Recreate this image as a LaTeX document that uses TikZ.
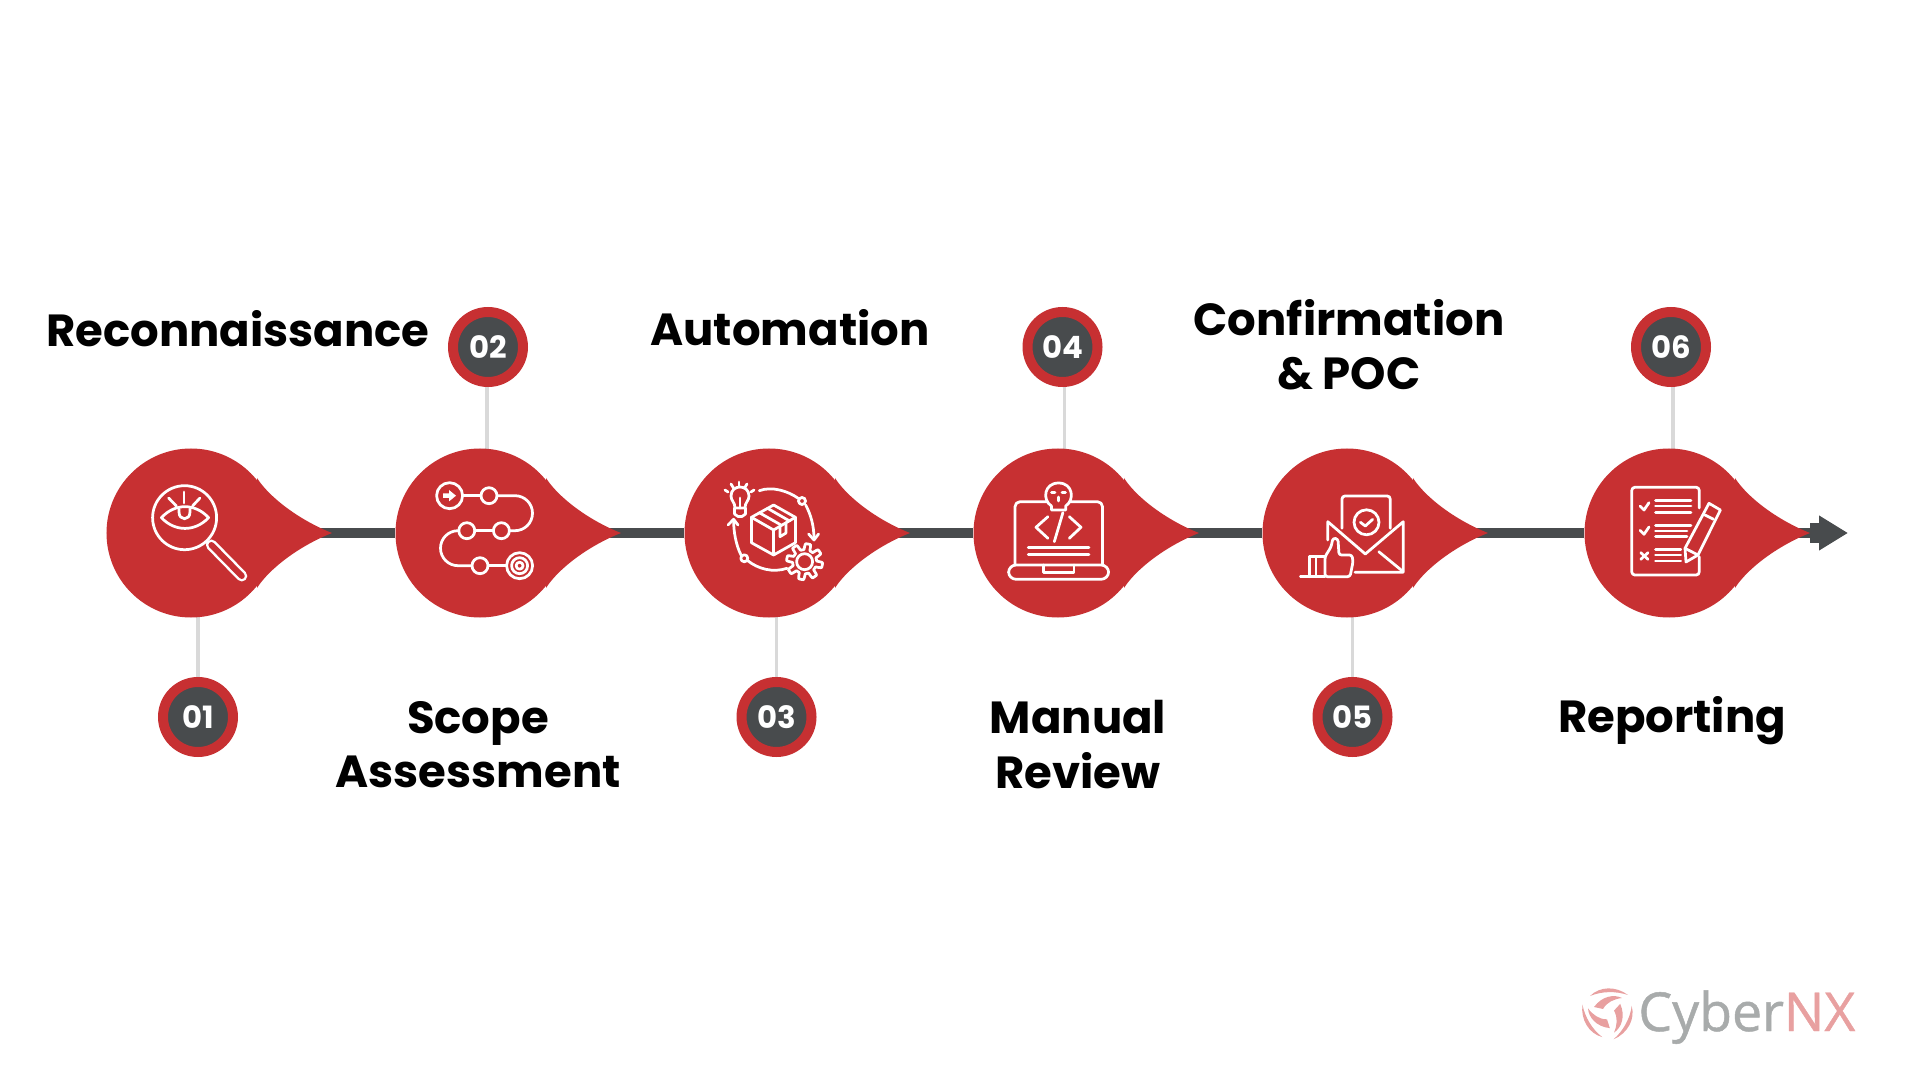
\documentclass[tikz,border=0pt]{standalone}
\usepackage{fontspec}
\setmainfont{Poppins}
\newfontfamily\logofont[FakeBold=0.9]{Open Sans}
\usepackage{xcolor}
\usetikzlibrary{arrows.meta,backgrounds}
\definecolor{dropred}{HTML}{C73032}
\definecolor{darkline}{HTML}{484B4D}
\definecolor{stemgrey}{HTML}{D9D9D9}
\definecolor{logogrey}{HTML}{A8ABAB}
\definecolor{logopink}{HTML}{E8A0A0}
\tikzset{dropnode/.style={circle,fill=dropred,minimum size=3.38cm,inner sep=0pt}}
\tikzset{ringnode/.style={circle,fill=darkline,draw=dropred,line width=2mm,minimum size=1.4cm,inner sep=0pt,text=white,font=\fontsize{17.5}{17.5}\selectfont\bfseries}}
\tikzset{titlenode/.style={align=center,text=black,font=\fontsize{25.6}{31}\selectfont\bfseries}}
\tikzset{mainline/.style={draw=darkline,line width=2mm}}
\tikzset{stemline/.style={draw=stemgrey,line width=0.7mm}}
\tikzset{iconline/.style={draw=white,line width=0.55mm,line cap=round,line join=round}}
\newcommand{\droptail}[1]{\fill[dropred,shift={(#1)}] (66,-55) .. controls (78,-36) and (108,-13) .. (141,0) .. controls (108,13) and (78,36) .. (66,55) -- cycle;}
\begin{document}
\begin{tikzpicture}[x=0.2mm,y=-0.2mm]
\useasboundingbox (0,0) rectangle (1920,1080);
    % drops
    \node[dropnode] (c1) at (191,533) {};
    \node[dropnode] (c2) at (480,533) {};
    \node[dropnode] (c3) at (769,533) {};
    \node[dropnode] (c4) at (1058,533) {};
    \node[dropnode] (c5) at (1347,533) {};
    \node[dropnode] (c6) at (1669,533) {};
    \droptail{c1}
    \droptail{c2}
    \droptail{c3}
    \droptail{c4}
    \droptail{c5}
    \droptail{c6}
    % numbers
    \node[ringnode] (n1) at (198,717) {01};
    \node[ringnode] (n2) at (488,347) {02};
    \node[ringnode] (n3) at (776.5,717) {03};
    \node[ringnode] (n4) at (1062.5,347) {04};
    \node[ringnode] (n5) at (1352.5,717) {05};
    \node[ringnode] (n6) at (1671,347) {06};
    % titles
    \node[titlenode] (t1) at (238,328.5) {Reconnaissance};
    \node[titlenode] (t2) at (478,744.5) {Scope\\Assessment};
    \node[titlenode] (t3) at (790,327.5) {Automation};
    \node[titlenode] (t4) at (1078,744.5) {Manual\\Review};
    \node[titlenode] (t5) at (1349,344.5) {Confirmation\\\& POC};
    \node[titlenode] (t6) at (1672,721) {Reporting};
    % line and stems go behind
    \coordinate (e1) at (1848,533);
    \begin{scope}[on background layer]
        \path[mainline] (c1) -- (c2) -- (c3) -- (c4) -- (c5) -- (c6);
        \path[mainline,line width=4mm] (1810,533) -- (1824,533);
        \path[mainline,-{Triangle[length=5.8mm,width=6.6mm]}] (c6) -- (e1);
        \path[stemline] (n1) -- (n1 |- c1);
        \path[stemline] ([xshift=-0.2mm]n2.center) -- ([xshift=-0.2mm]n2 |- c2);
        \path[stemline] (n3) -- (n3 |- c3);
        \path[stemline] ([xshift=0.4mm]n4.center) -- ([xshift=0.4mm]n4 |- c4);
        \path[stemline] (n5) -- (n5 |- c5);
        \path[stemline] ([xshift=0.4mm]n6.center) -- ([xshift=0.4mm]n6 |- c6);
    \end{scope}
    % icon 1, eye and lens
    \begin{scope}[iconline]
        \draw (184.6,517.7) circle (32);
        \draw (161.4,517.7) .. controls (175,503) and (195,503) .. (208.6,517.7) .. controls (195,532) and (175,532) .. cycle;
        \draw (179,509) -- (179,512) .. controls (179,521) and (190,521) .. (190,512) -- (190,509);
        \draw (184,492) -- (184,503);
        \draw (168.6,498) -- (176.4,506);
        \draw (200,498) -- (192.5,506);
        \draw (206.8,542.3) -- (211.4,545);
        \draw[line width=2.2mm] (211.4,545) -- (241.8,576);
        \draw[dropred,line width=1.2mm] (211.4,545) -- (241.8,576);
    \end{scope}
    % icon 2, route
    \begin{scope}[iconline]
        \draw (449.6,495.7) circle (13);
        \fill[white] (443,493.5) -- (449,493.5) -- (449,490) -- (456,495.7) -- (449,501.4) -- (449,498) -- (443,498) -- cycle;
        \draw (462.6,495.7) -- (481,495.7);
        \draw (489,495.7) circle (8);
        \draw (497,495.7) -- (515,495.7) arc (-90:90:17.5) -- (509.4,530.7);
        \draw (501.4,530.7) circle (8);
        \draw (493.4,530.7) -- (474.8,530.7);
        \draw (466.8,530.7) circle (8);
        \draw (458.8,530.7) -- (458,530.7) arc (270:90:17.5) -- (472,565.7);
        \draw (480,565.7) circle (8);
        \draw (488,565.7) -- (506.6,565.7);
        \draw (519.6,565.7) circle (13);
        \draw (519.6,565.7) circle (8);
        \draw (519.6,565.7) circle (3.5);
    \end{scope}
    % icon 3, box in a cycle
    \begin{scope}[iconline]
        \draw (773.6,505) -- (795.4,517.3) -- (795.4,542.7) -- (773.6,555) -- (751.4,542.7) -- (751.4,517.3) -- cycle;
        \draw (751.4,517.3) -- (773.6,530) -- (795.4,517.3);
        \draw (773.6,530) -- (773.6,555);
        \draw (759.3,512.7) -- (781,525);
        \draw (767.5,508.3) -- (789.6,521);
        \draw (780,526.7) -- (780,536.7) -- (786,533) -- (786,522.7);
        \draw (735,508) .. controls (735,502) and (731,501) .. (731,496) .. controls (731,484) and (749,484) .. (749,496) .. controls (749,501) and (745,502) .. (745,508) -- cycle;
        \draw (734.5,508) -- (734.5,514) -- (738,516.5) -- (742,516.5) -- (745.5,514) -- (745.5,508);
        \draw (740,508) -- (740,498);
        \draw (739,482) -- (739,486);
        \draw (731,484) -- (733.5,488);
        \draw (747,484) -- (744.5,488);
        \draw (725,490) -- (728,492);
        \draw (754,490) -- (751,492);
        \draw (759.3,490.7) .. controls (772,486) and (788,491) .. (798.5,498.5);
        \draw (802,501) circle (3.5);
        \draw (805.7,505) .. controls (811,515) and (814,526) .. (814,539);
        \draw (808.6,534) -- (814,540) -- (818.6,534);
        \draw (787,568.3) .. controls (773,573) and (758,569) .. (747.5,560.5);
        \draw (744.3,558.3) circle (3.5);
        \draw (741,555) .. controls (736,545) and (733.6,532) .. (733.6,520);
        \draw (728,525) -- (733.6,519.3) -- (738,525);
        \draw[fill=dropred] plot[samples=193,domain=0:360] ({804.6+(15+3*max(min(2.5*sin(8*\x),1),-1))*cos(\x)},{561.7+(15+3*max(min(2.5*sin(8*\x),1),-1))*sin(\x)}) -- cycle;
        \draw (804.6,561.7) circle (8);
    \end{scope}
    % icon 4, laptop
    \begin{scope}[iconline]
        \draw[rounded corners=1mm] (1015,565) -- (1015,501.7) -- (1102.5,501.7) -- (1102.5,565);
        \fill[dropred] (1058.6,495) circle (12.5);
        \draw (1051.4,506) .. controls (1042,500) and (1044,483) .. (1058.6,483) .. controls (1073,483) and (1075,500) .. (1065.7,506) -- (1065.7,510) -- (1051.4,510) -- cycle;
        \draw (1051.5,492.5) -- (1055,492.5);
        \draw (1062,492.5) -- (1065.5,492.5);
        \draw (1058.6,497) -- (1058.6,501);
        \draw (1047.9,516.7) -- (1036,527.3) -- (1047.9,538.3);
        \draw (1069.3,516.7) -- (1081,527.3) -- (1069.3,538.3);
        \draw (1062.9,512.7) -- (1054.3,541.7);
        \draw (1028.2,547.3) -- (1089,547.3);
        \draw (1028.2,554.3) -- (1089,554.3);
        \draw[rounded corners=1.5mm] (1008.6,565) -- (1008.6,579.3) -- (1108.6,579.3) -- (1108.6,565) -- cycle;
        \draw (1043.6,565) -- (1043.6,572.7) -- (1074,572.7) -- (1074,565);
    \end{scope}
    % icon 5, mail and thumb
    \begin{scope}[iconline]
        \draw[rounded corners=0.6mm] (1342,528.3) -- (1342,496) -- (1390.2,496) -- (1390.2,528.3);
        \draw (1366.5,522.3) circle (12.5);
        \draw (1360.4,522.3) -- (1365.3,526) -- (1372.7,519.3);
        \draw (1327.8,540) -- (1327.8,521.7) -- (1365.3,554) -- (1403.3,521.7) -- (1403.3,572.3) -- (1355,572.3);
        \draw (1378.8,551.7) -- (1402,570.7);
        \draw[rounded corners=0.5mm] (1325,556.7) -- (1331,547) -- (1333,538) -- (1338,539) -- (1339,555) -- (1352,555) -- (1353,562) -- (1350,576.7) -- (1325,576.7) -- cycle;
        \draw (1309.4,576.7) -- (1309.4,556.7) -- (1325,556.7);
        \draw (1316,556.7) -- (1316,576.7);
        \draw (1300.4,576.7) -- (1325,576.7);
    \end{scope}
    % icon 6, sheet and pencil
    \begin{scope}[iconline]
        \draw[rounded corners=0.6mm] (1699.2,508) -- (1699.2,487.3) -- (1631.8,487.3) -- (1631.8,575) -- (1699.2,575) -- (1699.2,556.7);
        \draw (1655.5,500.7) -- (1691,500.7);
        \draw (1655.5,506) -- (1691,506);
        \draw (1655.5,512.3) -- (1691,512.3);
        \draw (1655.5,525.7) -- (1691,525.7);
        \draw (1655.5,531) -- (1687,531);
        \draw (1655.5,536.7) -- (1687,536.7);
        \draw (1655.5,549.3) -- (1680.8,549.3);
        \draw (1655.5,555) -- (1680.8,555);
        \draw (1655.5,561) -- (1680.8,561);
        \draw (1640,506) -- (1644,510) -- (1649,502.7);
        \draw (1640,530.3) -- (1644,534.3) -- (1649,527);
        \draw (1640.8,552.7) -- (1648,559.3);
        \draw (1648,552.7) -- (1640.8,559.3);
        \draw (1709,503.3) -- (1720.4,510) -- (1698,555) -- (1686,562) -- (1685,548.3) -- cycle;
        \draw (1685,548.3) -- (1698,555);
        \draw (1705,515) -- (1713.5,519.3);
    \end{scope}
    % logo
    \node[inner sep=0pt,anchor=base west,text=logogrey,font=\fontsize{30.5}{30.5}\logofont] (logo) at (1638,1031) {Cyber\textcolor{logopink}{NX}};
    \begin{scope}[shift={(1608,1013)}]
        \foreach \a in {0,120,240}{
            \fill[logopink,rotate=\a] (-18,-17) .. controls (-8,-27) and (8,-27) .. (20,-18) .. controls (8,-22) and (-6,-22) .. (-18,-17) -- cycle;
            \fill[logopink,rotate=\a] (-14,-6) .. controls (-6,-17) and (6,-19) .. (14,-15) .. controls (6,-14) and (-1,-11) .. (-5,-4) -- cycle;
        }
    \end{scope}
\end{tikzpicture}
\end{document}
